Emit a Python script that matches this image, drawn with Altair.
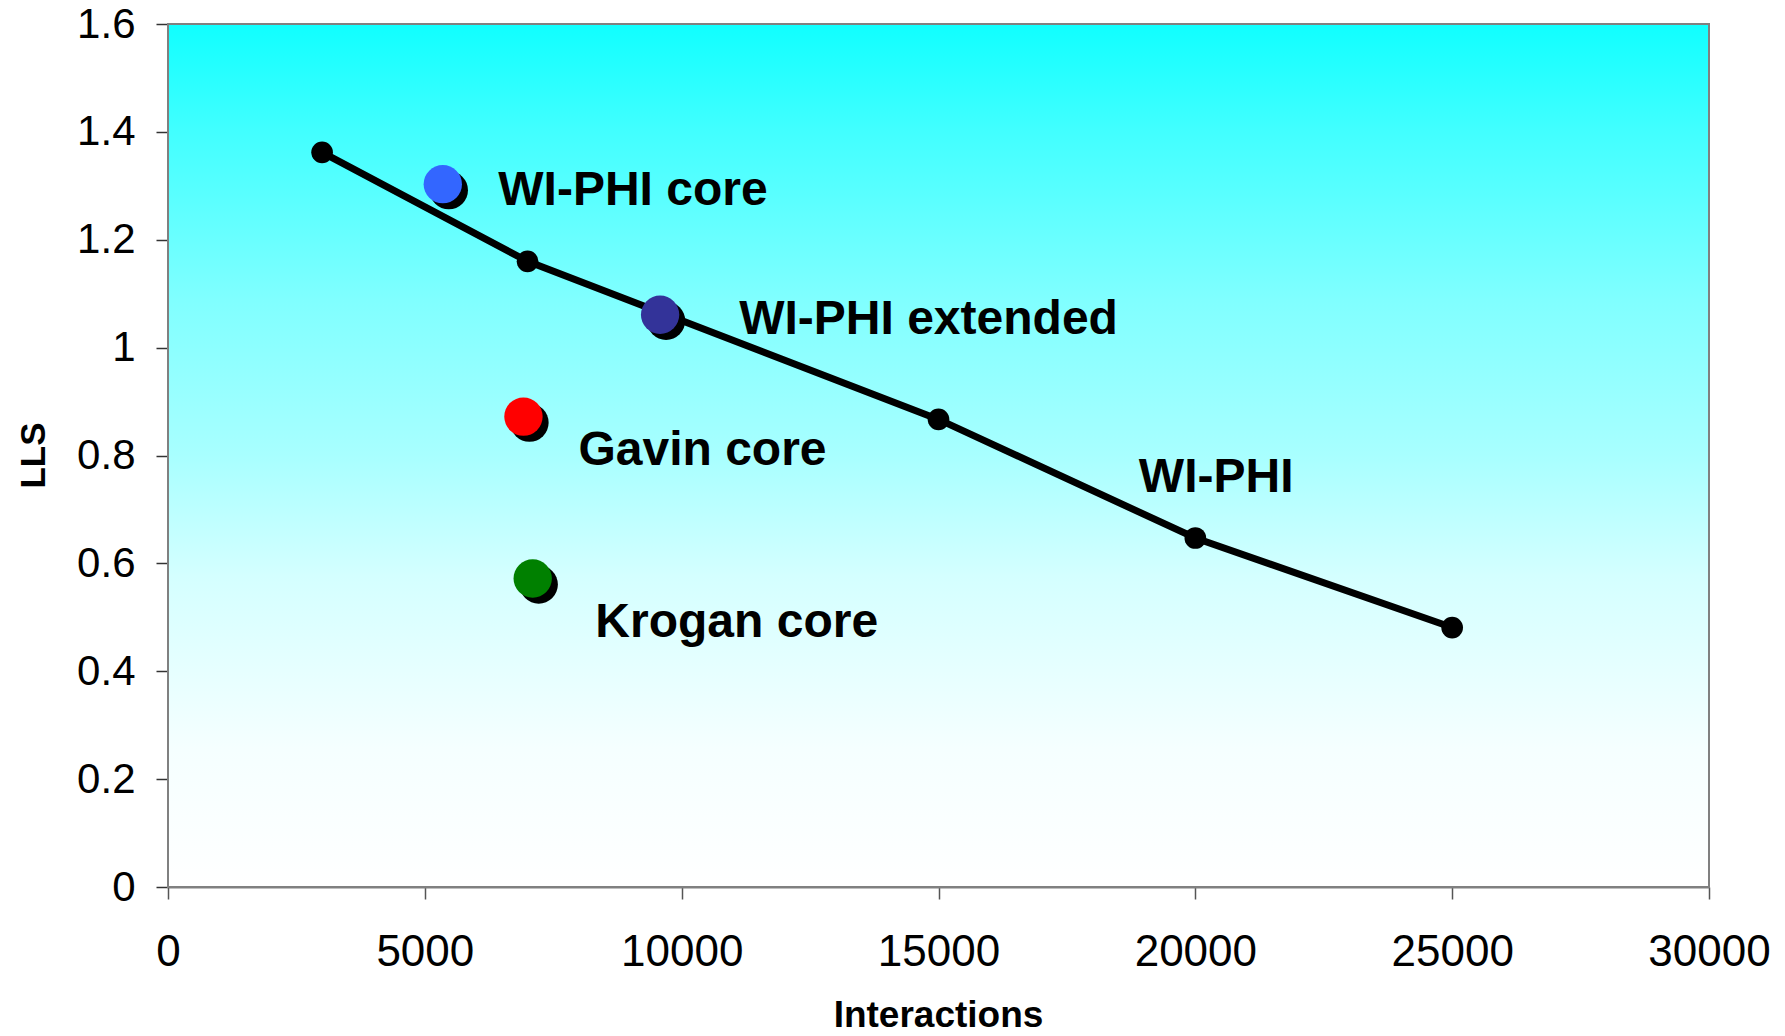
import altair as alt
import pandas as pd

# ---- data ----
line_x = [3000, 7000, 15000, 20000, 25000]
line_y = [1.362, 1.160, 0.867, 0.647, 0.481]

pt_names = ["WI-PHI core", "WI-PHI extended", "Gavin core", "Krogan core"]
pt_x = [5350, 9580, 6920, 7100]
pt_y = [1.303, 1.061, 0.872, 0.572]
pt_colors = ["#3366FF", "#333399", "#FF0000", "#008000"]

label_text = ["WI-PHI core", "WI-PHI extended", "Gavin core", "Krogan core", "WI-PHI"]
label_x = [6430, 11120, 7990, 8320, 18900]
label_y = [1.265, 1.025, 0.783, 0.464, 0.732]

x_ticks = [0, 5000, 10000, 15000, 20000, 25000, 30000]
y_ticks = [0, 0.2, 0.4, 0.6, 0.8, 1.0, 1.2, 1.4, 1.6]

FONT = "Liberation Sans"

line_df = pd.DataFrame({"x": line_x, "y": line_y})
pt_df = pd.DataFrame({"x": pt_x, "y": pt_y, "name": pt_names})
lab_df = pd.DataFrame({"x": label_x, "y": label_y, "text": label_text})
bg_df = pd.DataFrame({"x": [x_ticks[0]], "x2": [x_ticks[-1]], "y": [y_ticks[0]], "y2": [y_ticks[-1]]})

xscale = alt.Scale(domain=[x_ticks[0], x_ticks[-1]], nice=False)
yscale = alt.Scale(domain=[y_ticks[0], y_ticks[-1]], nice=False)

xaxis = alt.Axis(
    values=x_ticks, format="d", title="Interactions", grid=False,
    labelFont=FONT, labelFontSize=44, labelColor="#000000",
    labelFlush=False, labelOverlap=False, labelBaseline="alphabetic", labelPadding=66,
    tickSize=12, tickColor="#555555", tickWidth=1.5,
    domainColor="#808080", domainWidth=2,
    titleFont=FONT, titleFontSize=37, titleFontWeight="bold", titleColor="#000000",
    titleBaseline="alphabetic", titleX=770, titleY=139, titleAlign="center",
)
yaxis = alt.Axis(
    values=y_ticks, format="~g", title="LLS", grid=False,
    labelFont=FONT, labelFontSize=42, labelColor="#000000",
    labelFlush=False, labelOverlap=False, labelBaseline="middle", labelPadding=21,
    tickSize=12, tickColor="#333333", tickWidth=1.5,
    domainColor="#808080", domainWidth=2,
    titleFont=FONT, titleFontSize=35, titleFontWeight="bold", titleColor="#000000",
    titleAngle=270, titleBaseline="alphabetic", titleAlign="center", titleX=-124, titleY=431,
)

X = alt.X("x:Q", scale=xscale, axis=xaxis)
Y = alt.Y("y:Q", scale=yscale, axis=yaxis)

grad = alt.LinearGradient(
    gradient="linear", x1=0, x2=0, y1=0, y2=1,
    stops=[
        alt.GradientStop(color="#10FFFF", offset=0),
        alt.GradientStop(color="#40FFFF", offset=0.12),
        alt.GradientStop(color="#80FFFF", offset=0.32),
        alt.GradientStop(color="#A8FFFF", offset=0.5),
        alt.GradientStop(color="#D4FFFF", offset=0.64),
        alt.GradientStop(color="#F5FFFF", offset=0.84),
        alt.GradientStop(color="#FFFFFF", offset=1),
    ],
)

bg = alt.Chart(bg_df).mark_rect(fill=grad).encode(x=X, x2="x2", y=Y, y2="y2")

line = alt.Chart(line_df).mark_line(color="#000000", strokeWidth=7).encode(x=X, y=Y)
line_pts = alt.Chart(line_df).mark_circle(color="#000000", size=470, opacity=1).encode(x=X, y=Y)

shadow = alt.Chart(pt_df).mark_circle(color="#000000", size=1470, opacity=1, xOffset=6, yOffset=6).encode(x=X, y=Y)
pts = alt.Chart(pt_df).mark_circle(size=1470, opacity=1).encode(
    x=X, y=Y,
    color=alt.Color("name:N", scale=alt.Scale(domain=pt_names, range=pt_colors), legend=None),
)

labels = alt.Chart(lab_df).mark_text(
    align="left", baseline="alphabetic", font=FONT, fontSize=48, fontWeight="bold", color="#000000"
).encode(x=X, y=Y, text="text:N")

frame = alt.Chart(bg_df).mark_rect(filled=False, stroke="#808080", strokeWidth=2).encode(x=X, x2="x2", y=Y, y2="y2")

chart = alt.layer(bg, line, line_pts, shadow, pts, labels, frame).properties(
    width=1541, height=863,
    autosize=alt.AutoSizeParams(type="none"),
    padding={"left": 160, "top": 16, "right": 68, "bottom": 141},
    background="#FFFFFF",
).configure_view(stroke=None)

chart.save("out.html", embed_options={"renderer": "svg", "actions": False})
